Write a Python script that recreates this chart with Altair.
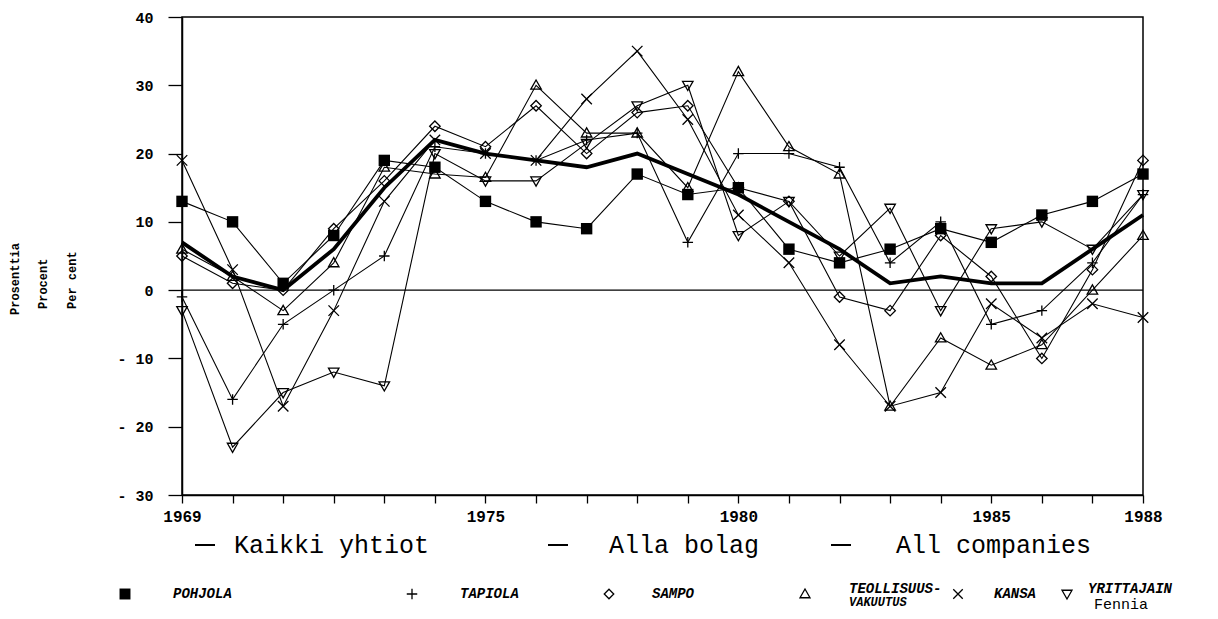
import altair as alt
import pandas as pd

years = list(range(1969, 1989))
label_years = [1969, 1975, 1980, 1985, 1988]
y_ticks = [-30, -20, -10, 0, 10, 20, 30, 40]

pohjola    = [13, 10, 1, 8, 19, 18, 13, 10, 9, 17, 14, 15, 6, 4, 6, 9, 7, 11, 13, 17]
tapiola    = [-1, -16, -5, 0, 5, 21, 20, 19, 22, 23, 7, 20, 20, 18, 4, 10, -5, -3, 4, 14]
sampo      = [5, 1, 0, 9, 16, 24, 21, 27, 20, 26, 27, 15, 13, -1, -3, 8, 2, -10, 3, 19]
teollisuus = [6, 2, -3, 4, 18, 17, 16.5, 30, 23, 23, 15, 32, 21, 17, -17, -7, -11, -8, 0, 8]
kansa      = [19, 3, -17, -3, 13, 22, 20, 19, 28, 35, 25, 11, 4, -8, -17, -15, -2, -7, -2, -4]
yrittajain = [-3, -23, -15, -12, -14, 20, 16, 16, 21.5, 27, 30, 8, 13, 5, 12, -3, 9, 10, 6, 14]
kaikki     = [7, 2, 0, 6, 15, 22, 20, 19, 18, 20, 17, 14, 10, 6, 1, 2, 1, 1, 6, 11]

series_names = ["POHJOLA", "TAPIOLA", "SAMPO", "TEOLLISUUS-VAKUUTUS", "KANSA", "YRITTAJAIN"]
series_vals = [pohjola, tapiola, sampo, teollisuus, kansa, yrittajain]

PLUS = "M-1,0H1M0,-1V1"
XMARK = "M-1,-1L1,1M-1,1L1,-1"
DIAM = "M0,-1L1,0L0,1L-1,0Z"
TRUP = "M0,-1L1,0.75L-1,0.75Z"
TRDN = "M0,1L1,-0.75L-1,-0.75Z"
open_shapes = [PLUS, DIAM, TRUP, XMARK, TRDN]

rows = []
for name, vals in zip(series_names, series_vals):
    for yr, v in zip(years, vals):
        rows.append({"year": yr, "value": v, "series": name})
df = pd.DataFrame(rows)
dfk = pd.DataFrame({"year": years, "value": kaikki})

W, H = 961, 478
FONT = "Liberation Mono"

xs = alt.Scale(domain=[1969, 1988], nice=False, zero=False)
ys = alt.Scale(domain=[-30, 40], nice=False, zero=False)

x_enc = alt.X("year:Q", scale=xs, axis=alt.Axis(
    values=years, format="d", title=None, grid=False,
    labelExpr="indexof([1969,1975,1980,1985,1988], datum.value) >= 0 ? datum.label : ''",
    tickSize=8, tickColor="black", domainColor="black", domainWidth=1.5, tickWidth=1.3,
    labelFont=FONT, labelFontSize=16, labelFontWeight="bold", labelColor="black",
    labelPadding=5, labelFlush=False, labelOverlap=False))
y_enc = alt.Y("value:Q", scale=ys, axis=alt.Axis(
    values=y_ticks, title=None, grid=False,
    labelExpr="datum.value < 0 ? '- ' + abs(datum.value) : datum.label",
    tickSize=14, tickColor="black", domainColor="black", domainWidth=1.5, tickWidth=1.3,
    labelFont=FONT, labelFontSize=15, labelFontWeight="bold", labelColor="black",
    labelPadding=15))

base = alt.Chart(df)

lines = base.mark_line(color="black", strokeWidth=1.1).encode(
    x=x_enc, y=y_enc, detail="series:N")

pts_open = base.transform_filter(alt.datum.series != "POHJOLA").mark_point(
    filled=False, color="black", strokeWidth=1.3, size=110, opacity=1).encode(
    x="year:Q", y="value:Q",
    shape=alt.Shape("series:N", scale=alt.Scale(domain=series_names[1:], range=open_shapes), legend=None))

pts_sq = base.transform_filter(alt.datum.series == "POHJOLA").mark_point(
    shape="square", filled=True, color="black", size=130, opacity=1).encode(
    x="year:Q", y="value:Q")

thick = alt.Chart(dfk).mark_line(color="black", strokeWidth=3.8).encode(x="year:Q", y="value:Q")

zero = alt.Chart(pd.DataFrame({"v": [0]})).mark_rule(color="black", strokeWidth=1.3).encode(y="v:Q")

layers = [zero, lines, thick, pts_open, pts_sq]

# y-axis title (three languages)
for txt, px, py in [("Prosenttia", 15, 315), ("Procent", 43, 309), ("Per cent", 72, 309)]:
    layers.append(alt.Chart(pd.DataFrame({"t": [txt]})).mark_text(
        angle=270, align="left", baseline="middle", font=FONT, fontSize=12,
        fontWeight="bold", color="black").encode(
        x=alt.value(px - 182), y=alt.value(py - 17), text="t:N"))

# legend row 1: all companies
ROW1 = 545 - 17
for txt, dx, tx in [("Kaikki yhtiot", 195, 234), ("Alla bolag", 548, 609), ("All companies", 831, 896)]:
    layers.append(alt.Chart(pd.DataFrame({"t": [txt]})).mark_rule(color="black", strokeWidth=2).encode(
        x=alt.value(dx - 182), x2=alt.value(dx + 20 - 182), y=alt.value(ROW1)))
    layers.append(alt.Chart(pd.DataFrame({"t": [txt]})).mark_text(
        align="left", baseline="middle", font=FONT, fontSize=25, color="black").encode(
        x=alt.value(tx - 182), y=alt.value(ROW1), text="t:N"))

# legend row 2: companies
ROW2 = 594 - 17
items = [
    ("square", True, 120, "POHJOLA", None, 125, 173),
    (PLUS, False, 110, "TAPIOLA", None, 412, 460),
    (DIAM, False, 90, "SAMPO", None, 609, 652),
    (TRUP, False, 100, "TEOLLISUUS-", "VAKUUTUS", 805, 849),
    (XMARK, False, 90, "KANSA", None, 958, 994),
    (TRDN, False, 100, "YRITTAJAIN", "Fennia", 1067, 1088),
]
for shp, filled, sz, l1, l2, mx, tx in items:
    layers.append(alt.Chart(pd.DataFrame({"t": [l1]})).mark_point(
        shape=shp, filled=filled, color="black", size=sz, strokeWidth=1.3, opacity=1).encode(
        x=alt.value(mx - 182), y=alt.value(ROW2)))
    layers.append(alt.Chart(pd.DataFrame({"t": [l1]})).mark_text(
        align="left", baseline="middle", font=FONT, fontSize=14, fontStyle="italic",
        fontWeight="bold", color="black").encode(
        x=alt.value(tx - 182), y=alt.value(ROW2 - (5 if l2 else 0)), text="t:N"))
    if l2:
        big = l2 == "Fennia"
        layers.append(alt.Chart(pd.DataFrame({"t": [l2]})).mark_text(
            align="left", baseline="middle", font=FONT, fontSize=(15 if big else 12),
            fontStyle=("normal" if big else "italic"), fontWeight=("normal" if big else "bold"),
            color="black").encode(
            x=alt.value(tx - 182 + (6 if big else 0)), y=alt.value(ROW2 + (10 if big else 8)), text="t:N"))

chart = alt.layer(*layers).properties(
    width=W, height=H,
    autosize=alt.AutoSizeParams(type="none"),
    padding={"left": 174, "top": 9, "right": 67, "bottom": 124},
    background="white",
).configure_view(stroke="black", strokeWidth=1.5)

chart.save("out.html", embed_options={"renderer": "svg", "actions": False})
